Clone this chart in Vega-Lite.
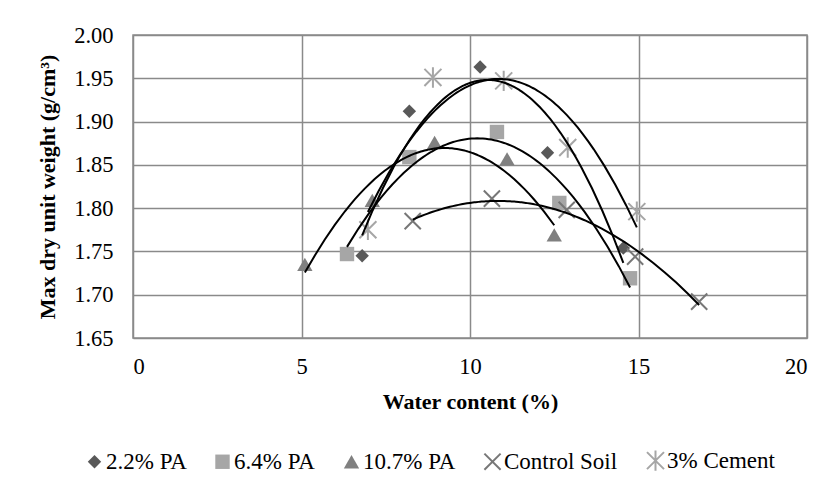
{
  "$schema": "https://vega.github.io/schema/vega-lite/v6.json",
  "width": 674,
  "height": 303,
  "autosize": {"type": "none"},
  "padding": {"left": 133, "top": 35, "right": 24, "bottom": 153},
  "background": "white",
  "config": {
    "font": "Liberation Serif",
    "view": {"stroke": "#8a8a8a", "strokeWidth": 1.5},
    "axis": {
      "gridColor": "#8a8a8a", "gridWidth": 1.5, "gridOpacity": 1,
      "domain": false, "ticks": false,
      "labelFont": "Liberation Serif", "labelFontSize": 22.5, "labelColor": "#000",
      "titleFont": "Liberation Serif", "titleFontSize": 22, "titleFontWeight": "bold", "titleColor": "#000"
    },
    "legend": {
      "labelFont": "Liberation Serif", "labelFontSize": 23, "labelColor": "#000",
      "symbolStrokeWidth": 2, "labelOffset": 0, "columnPadding": 24,
      "padding": 0, "symbolOpacity": 1
    }
  },
  "data": {
    "values": [
      {"series": "2.2% PA", "x": 6.8, "y": 1.745},
      {"series": "2.2% PA", "x": 8.2, "y": 1.912},
      {"series": "2.2% PA", "x": 10.3, "y": 1.963},
      {"series": "2.2% PA", "x": 12.3, "y": 1.864},
      {"series": "2.2% PA", "x": 14.55, "y": 1.754},
      {"series": "6.4% PA", "x": 6.35, "y": 1.747},
      {"series": "6.4% PA", "x": 8.2, "y": 1.859},
      {"series": "6.4% PA", "x": 10.8, "y": 1.888},
      {"series": "6.4% PA", "x": 12.65, "y": 1.806},
      {"series": "6.4% PA", "x": 14.75, "y": 1.719},
      {"series": "10.7% PA", "x": 5.1, "y": 1.735},
      {"series": "10.7% PA", "x": 7.1, "y": 1.809},
      {"series": "10.7% PA", "x": 8.95, "y": 1.876},
      {"series": "10.7% PA", "x": 11.1, "y": 1.857},
      {"series": "10.7% PA", "x": 12.5, "y": 1.769},
      {"series": "Control Soil", "x": 8.3, "y": 1.785},
      {"series": "Control Soil", "x": 10.65, "y": 1.811},
      {"series": "Control Soil", "x": 12.87, "y": 1.798},
      {"series": "Control Soil", "x": 14.9, "y": 1.744},
      {"series": "Control Soil", "x": 16.8, "y": 1.692},
      {"series": "3% Cement", "x": 6.97, "y": 1.775},
      {"series": "3% Cement", "x": 8.9, "y": 1.951},
      {"series": "3% Cement", "x": 11.0, "y": 1.947},
      {"series": "3% Cement", "x": 12.9, "y": 1.87},
      {"series": "3% Cement", "x": 14.95, "y": 1.796}
    ]
  },
  "layer": [
    {
      "mark": {"type": "point", "strokeWidth": 2, "opacity": 1},
      "encoding": {
        "x": {"field": "x", "type": "quantitative", "scale": {"domain": [0, 20], "nice": false}, "axis": {"values": [0, 5, 10, 15, 20], "labelPadding": 17, "titlePadding": 14, "title": "Water content (%)"}},
        "y": {"field": "y", "type": "quantitative", "scale": {"domain": [1.65, 2.0], "nice": false, "zero": false}, "axis": {"values": [1.65, 1.7, 1.75, 1.8, 1.85, 1.9, 1.95, 2.0], "format": ".2f", "labelPadding": 20, "titlePadding": 14, "title": "Max dry unit weight (g/cm³)"}},
        "shape": {"field": "series", "type": "nominal", "scale": {"domain": ["2.2% PA", "6.4% PA", "10.7% PA", "Control Soil", "3% Cement"], "range": ["diamond", "square", "triangle-up", "M-1,-1L1,1M1,-1L-1,1", "M-1,-1L1,1M1,-1L-1,1M0,-1.2L0,1.2"]}, "legend": {"title": null, "orient": "none", "legendX": -50, "legendY": 414, "direction": "horizontal", "labelFont": "Liberation Serif", "labelFontSize": 23}},
        "fill": {"field": "series", "type": "nominal", "scale": {"domain": ["2.2% PA", "6.4% PA", "10.7% PA", "Control Soil", "3% Cement"], "range": ["#595959", "#a6a6a6", "#808080", "transparent", "transparent"]}, "legend": {"title": null, "orient": "none", "legendX": -50, "legendY": 414, "direction": "horizontal", "labelFont": "Liberation Serif", "labelFontSize": 23}},
        "stroke": {"field": "series", "type": "nominal", "scale": {"domain": ["2.2% PA", "6.4% PA", "10.7% PA", "Control Soil", "3% Cement"], "range": ["transparent", "transparent", "transparent", "#777777", "#a6a6a6"]}, "legend": {"title": null, "orient": "none", "legendX": -50, "legendY": 414, "direction": "horizontal", "labelFont": "Liberation Serif", "labelFontSize": 23}},
        "size": {"field": "series", "type": "nominal", "scale": {"domain": ["2.2% PA", "6.4% PA", "10.7% PA", "Control Soil", "3% Cement"], "range": [180, 290, 270, 250, 230]}, "legend": {"title": null, "orient": "none", "legendX": -50, "legendY": 414, "direction": "horizontal", "labelFont": "Liberation Serif", "labelFontSize": 23}}
      }
    },
    {
      "transform": [{"regression": "y", "on": "x", "method": "poly", "order": 2, "groupby": ["series"]}],
      "mark": {"type": "line", "color": "black", "strokeWidth": 2},
      "encoding": {
        "x": {"field": "x", "type": "quantitative"},
        "y": {"field": "y", "type": "quantitative"},
        "detail": {"field": "series", "type": "nominal"}
      }
    }
  ]
}
